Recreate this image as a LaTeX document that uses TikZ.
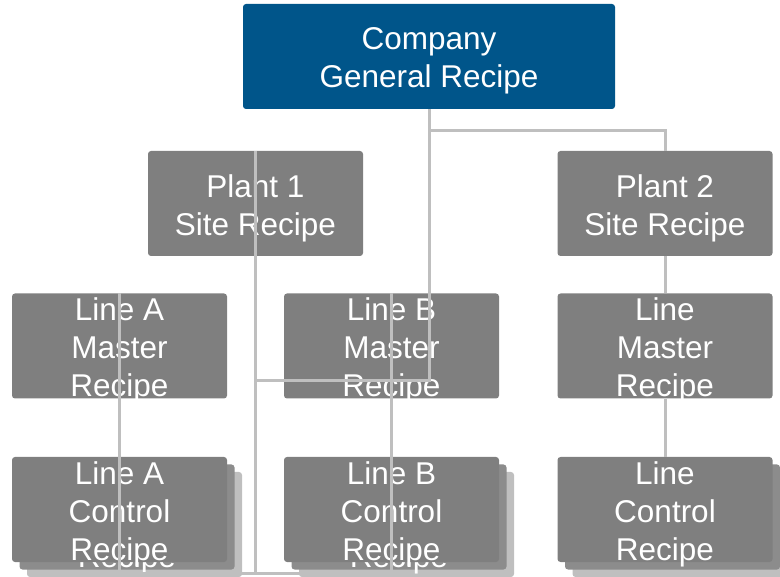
\documentclass[tikz,border=0pt]{standalone}
\usepackage{fontspec}
\setmainfont{Liberation Sans}
\definecolor{compblue}{HTML}{00558A}
\definecolor{boxgray}{HTML}{7F7F7F}
\definecolor{shadowmid}{HTML}{8C8C8C}
\definecolor{shadowlight}{HTML}{BFBFBF}
\definecolor{linkgray}{HTML}{BFBFBF}
\begin{document}
\begin{tikzpicture}[x=1pt,y=-1pt,
  recbox/.style={rectangle, rounded corners=3pt, fill=boxgray, minimum width=215pt, minimum height=105pt, inner sep=0pt},
  txtstyle/.style={text=white, align=center, inner sep=0pt, yshift=-4.5pt, font=\fontsize{31.5}{38}\selectfont},
  boxtext/.style={label={[txtstyle]center:{#1}}},
  topbox/.style={recbox, fill=compblue, minimum width=372pt},
  shadowmidbox/.style={recbox, fill=shadowmid},
  shadowlightbox/.style={recbox, fill=shadowlight},
  link/.style={draw=linkgray, line width=3pt}]
\useasboundingbox (0,0) rectangle (780,577);

% stacked control recipe shadows
\node[shadowlightbox] (lac3) at (134.5,524.5) {};
\node[shadowmidbox, boxtext={Line A\\Control\\Recipe}] (lac2) at (127,517) {};
\node[shadowlightbox] (lbc3) at (406.5,524.5) {};
\node[shadowmidbox, boxtext={Line B\\Control\\Recipe}] (lbc2) at (399,517) {};
\node[shadowlightbox] (lcc3) at (680,524.5) {};
\node[shadowmidbox] (lcc2) at (672.5,517) {};

\node[topbox, boxtext={Company\\General Recipe}] (comp) at (429,56.5) {};
\node[recbox, boxtext={Plant 1\\Site Recipe}] (p1) at (255.5,203.5) {};
\node[recbox, boxtext={Plant 2\\Site Recipe}] (p2) at (665,203.5) {};
\node[recbox, boxtext={Line A\\Master\\Recipe}] (la) at (119.5,346) {};
\node[recbox, boxtext={Line B\\Master\\Recipe}] (lb) at (391.5,346) {};
\node[recbox, boxtext={Line\\Master\\Recipe}] (lm) at (665,346) {};
\node[recbox, boxtext={Line A\\Control\\Recipe}] (lac) at (119.5,509.5) {};
\node[recbox, boxtext={Line B\\Control\\Recipe}] (lbc) at (391.5,509.5) {};
\node[recbox, boxtext={Line\\Control\\Recipe}] (lcc) at (665,509.5) {};

% connectors
\coordinate (bustop) at (429,131);
\coordinate (junc) at (429,381);
\coordinate (busbot) at (255.5,573);
\draw[link] (comp.south) -- (bustop) -| (p2.north);
\draw[link] (bustop) -- (junc) -- (junc -| p1.north);
\draw[link] (p1.north) -- (busbot);
\draw[link] (la.north) |- (busbot);
\draw[link] (lb.north) |- (busbot);
\draw[link] (p2.south) -- (lm.north);
\draw[link] (lm.south) -- (lcc.north);
\end{tikzpicture}
\end{document}
